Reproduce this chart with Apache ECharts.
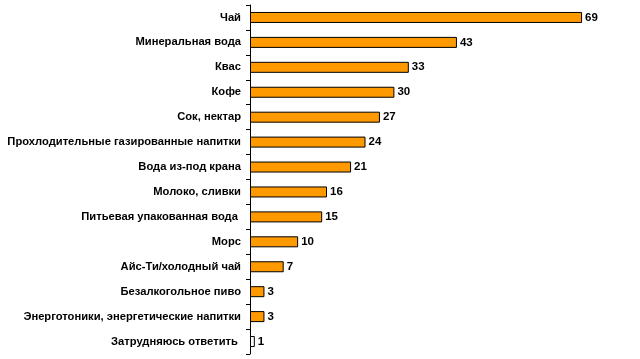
<!DOCTYPE html>
<html><head><meta charset="utf-8">
<script src="https://cdn.jsdelivr.net/npm/echarts@6/dist/echarts.min.js"></script>
<style>html,body{margin:0;padding:0;background:#fff}#c{width:640px;height:359px}</style>
</head><body><div id="c"></div>
<script>
const categories = ["Чай","Минеральная вода","Квас","Кофе","Сок, нектар","Прохлодительные газированные напитки","Вода из-под крана","Молоко, сливки","Питьевая упакованная вода ","Морс","Айс-Ти/холодный чай","Безалкогольное пиво","Энерготоники, энергетические напитки","Затрудняюсь ответить "];
const values = [69,43,33,30,27,24,21,16,15,10,7,3,3,1];
const highlightWhite = ["Затрудняюсь ответить "];

const chart = echarts.init(document.getElementById('c'), null, {renderer:'canvas'});
chart.setOption({
  animation:false,
  backgroundColor:'#ffffff',
  grid:{left:250, right:5, top:5, bottom:5, containLabel:false},
  xAxis:{type:'value', min:0, max:80, show:false},
  yAxis:{type:'category', inverse:true, data:categories,
    axisLine:{show:true, lineStyle:{color:'#000', width:1}},
    axisTick:{show:true, length:4, lineStyle:{color:'#000'}},
    axisLabel:{color:'#000', fontFamily:'Liberation Sans, Arial', fontWeight:'bold', fontSize:11.2, margin:9},
    splitLine:{show:false}
  },
  series:[{
    type:'bar', barWidth:11,
    data: values.map((v,i)=>({value:v, itemStyle:{color: highlightWhite.includes(categories[i]) ? '#ffffff' : '#FF9900'}})),
    itemStyle:{borderColor:'#000', borderWidth:1},
    label:{show:true, position:'right', distance:3, color:'#000', fontFamily:'Liberation Sans, Arial', fontWeight:'bold', fontSize:11.5}
  }]
});
</script></body></html>
